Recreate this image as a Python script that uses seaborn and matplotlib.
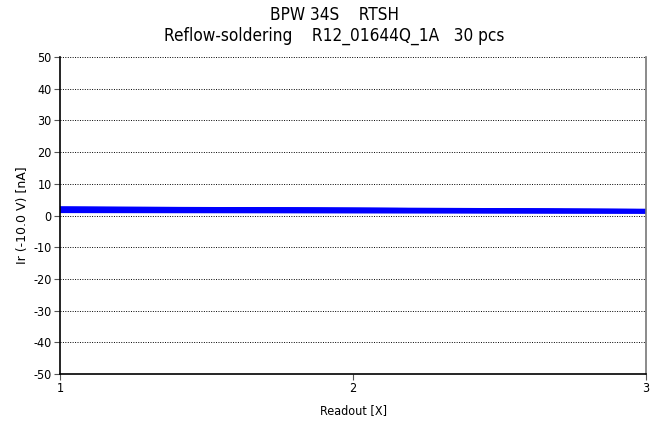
import matplotlib
matplotlib.use("Agg")
import matplotlib.pyplot as plt
import seaborn as sns
import pandas as pd

readouts = [1, 2, 3]
ir_readout1 = [1.0, 1.1, 1.2, 1.3, 1.3, 1.4, 1.5, 1.5, 1.6, 1.6, 1.7, 1.7, 1.8, 1.8, 1.9,
               1.9, 2.0, 2.0, 2.1, 2.1, 2.2, 2.2, 2.3, 2.3, 2.4, 2.4, 2.5, 2.5, 2.6, 2.6]
ir_readout2 = [0.9, 1.0, 1.1, 1.2, 1.2, 1.3, 1.3, 1.4, 1.4, 1.5, 1.5, 1.5, 1.6, 1.6, 1.7,
               1.7, 1.7, 1.8, 1.8, 1.9, 1.9, 1.9, 2.0, 2.0, 2.1, 2.1, 2.1, 2.2, 2.2, 2.3]
ir_readout3 = [0.8, 0.9, 0.9, 1.0, 1.0, 1.1, 1.1, 1.1, 1.2, 1.2, 1.2, 1.3, 1.3, 1.3, 1.4,
               1.4, 1.4, 1.5, 1.5, 1.5, 1.5, 1.6, 1.6, 1.6, 1.7, 1.7, 1.7, 1.8, 1.8, 1.9]
title_lines = ["BPW 34S    RTSH", "Reflow-soldering    R12_01644Q_1A   30 pcs"]
x_label = "Readout [X]"
y_label = "Ir (-10.0 V) [nA]"
y_ticks = [-50, -40, -30, -20, -10, 0, 10, 20, 30, 40, 50]

rows = []
for i in range(len(ir_readout1)):
    for r, v in zip(readouts, (ir_readout1[i], ir_readout2[i], ir_readout3[i])):
        rows.append({"piece": i, "readout": r, "ir": v})
df = pd.DataFrame(rows)

sns.set_theme(style="white")
plt.rcParams["font.family"] = ["DejaVu Sans"]
plt.rcParams["font.stretch"] = "condensed"
plt.rcParams["text.color"] = "black"
plt.rcParams["xtick.color"] = "black"
plt.rcParams["ytick.color"] = "black"
plt.rcParams["axes.labelcolor"] = "black"

fig = plt.figure(figsize=(6.6, 4.23), dpi=100)
ax = fig.add_axes([60 / 660, 49 / 423, 586 / 660, 317 / 423])

sns.lineplot(data=df, x="readout", y="ir", units="piece", estimator=None,
             color="#0000ff", linewidth=1.1, ax=ax, legend=False)

ax.set_xlim(1, 3)
ax.set_ylim(-50, 50)
ax.set_xticks(readouts)
ax.set_xticklabels([str(r) for r in readouts], fontsize=9)
ax.set_yticks(y_ticks)
ax.set_yticklabels([str(t) for t in y_ticks], fontsize=9)
for t in y_ticks:
    ax.axhline(t, color="black", linestyle=(0, (1, 1.5)), linewidth=0.7, zorder=0)

ax.tick_params(axis="both", direction="out", length=4, width=0.8, color="#555555",
               left=True, bottom=True, pad=2)
for s in ["left", "bottom"]:
    ax.spines[s].set_color("black")
    ax.spines[s].set_linewidth(1.2)
ax.spines["top"].set_visible(False)
ax.spines["right"].set_color("#777777")
ax.spines["right"].set_linewidth(1.2)

ax.set_xlabel(x_label, fontsize=9, labelpad=6)
ax.set_ylabel(y_label, fontsize=9, labelpad=3, fontstretch="normal")
fig.text(334 / 660, 1 - 15 / 423, title_lines[0], ha="center", va="center", fontsize=12.3)
fig.text(334 / 660, 1 - 36 / 423, title_lines[1], ha="center", va="center", fontsize=12.3)

fig.savefig("out.png", dpi=100)
